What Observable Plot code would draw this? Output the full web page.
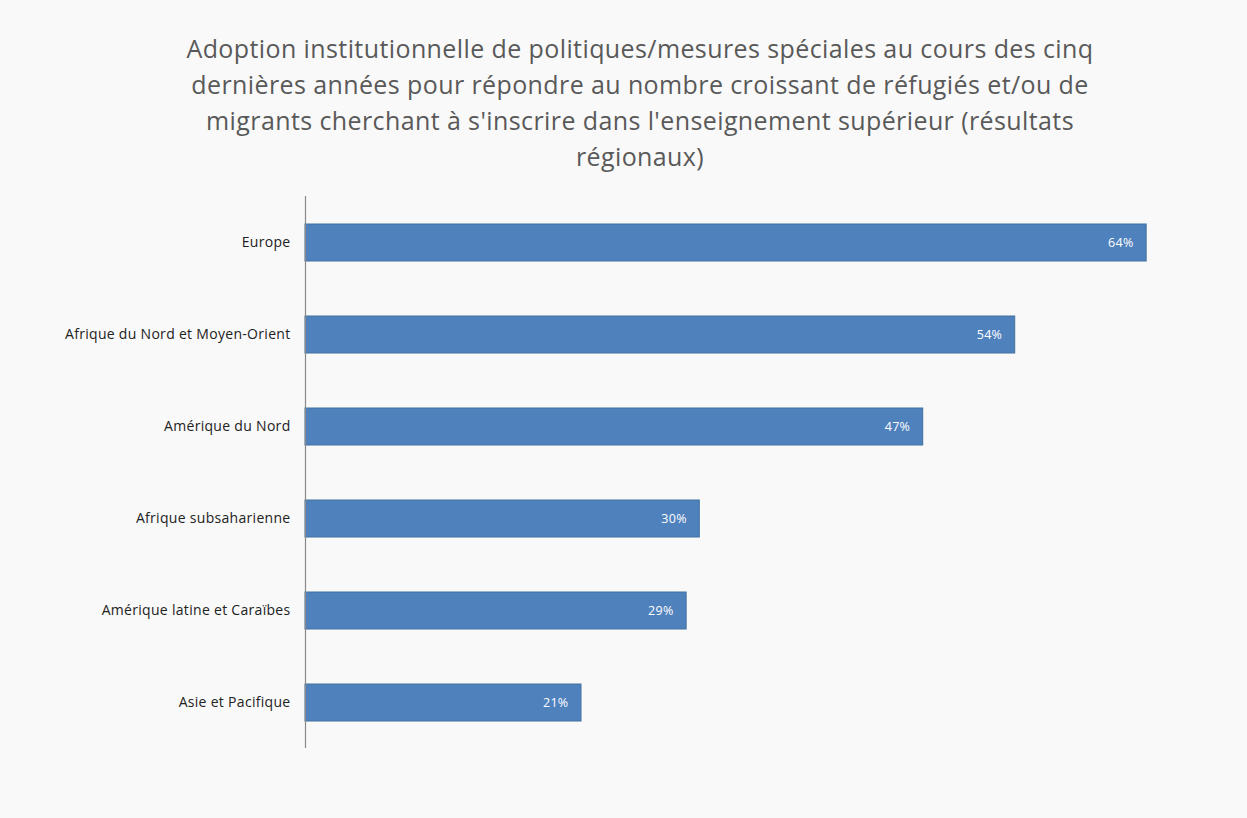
<!DOCTYPE html>
<html>
<head>
<meta charset="utf-8">
<script src="https://cdn.jsdelivr.net/npm/d3@7"></script>
<script src="https://cdn.jsdelivr.net/npm/@observablehq/plot@0.6"></script>
<style>
  html, body { margin: 0; padding: 0; background: #f9f9f9; }
  #wrap { width: 1247px; height: 818px; position: relative; background: #f9f9f9; overflow: hidden; }
  #title { position: absolute; left: 0; top: 30px; width: 1280px; text-align: center;
           font-family: "Open Sans", sans-serif; font-size: 25px; letter-spacing: 0.4px; line-height: 36px; color: #595959; font-weight: 400; }
  #chart { position: absolute; left: 0; top: 190px; }
</style>
</head>
<body>
<div id="wrap">
  <div id="title">Adoption institutionnelle de politiques/mesures spéciales au cours des cinq<br>dernières années pour répondre au nombre croissant de réfugiés et/ou de<br>migrants cherchant à s'inscrire dans l'enseignement supérieur (résultats<br>régionaux)</div>
  <div id="chart"></div>
</div>
<script>
const regions = ["Europe", "Afrique du Nord et Moyen-Orient", "Amérique du Nord", "Afrique subsaharienne", "Amérique latine et Caraïbes", "Asie et Pacifique"];
const values = [64, 54, 47, 30, 29, 21];

const data = regions.map((r, i) => ({region: r, value: values[i]}));

const plot = Plot.plot({
  width: 1247,
  height: 628,
  marginTop: 6,
  marginBottom: 70,
  marginLeft: 305,
  marginRight: 22,
  style: {background: "transparent", fontFamily: "'Open Sans', sans-serif", fontSize: "14px", color: "#222", letterSpacing: "0.3px"},
  x: {domain: [0, 70], axis: null},
  y: {domain: regions, padding: 0.6, paddingOuter: 0.3, label: null, tickSize: 0, tickPadding: 15},
  marks: [
    Plot.barX(data, {x: "value", y: "region", fill: "#4f81bd", stroke: "#41729f", strokeWidth: 1}),
    Plot.text(data, {x: "value", y: "region", text: d => d.value + "%", textAnchor: "end", dx: -13, fill: "white", fontSize: 12.5}),
    Plot.ruleX([0], {stroke: "#8a8a8a", strokeWidth: 1.2}),
    Plot.axisY({tickSize: 0, tickPadding: 15, fontSize: 14, fill: "#222", label: null})
  ]
});
document.getElementById("chart").appendChild(plot);
</script>
</body>
</html>
